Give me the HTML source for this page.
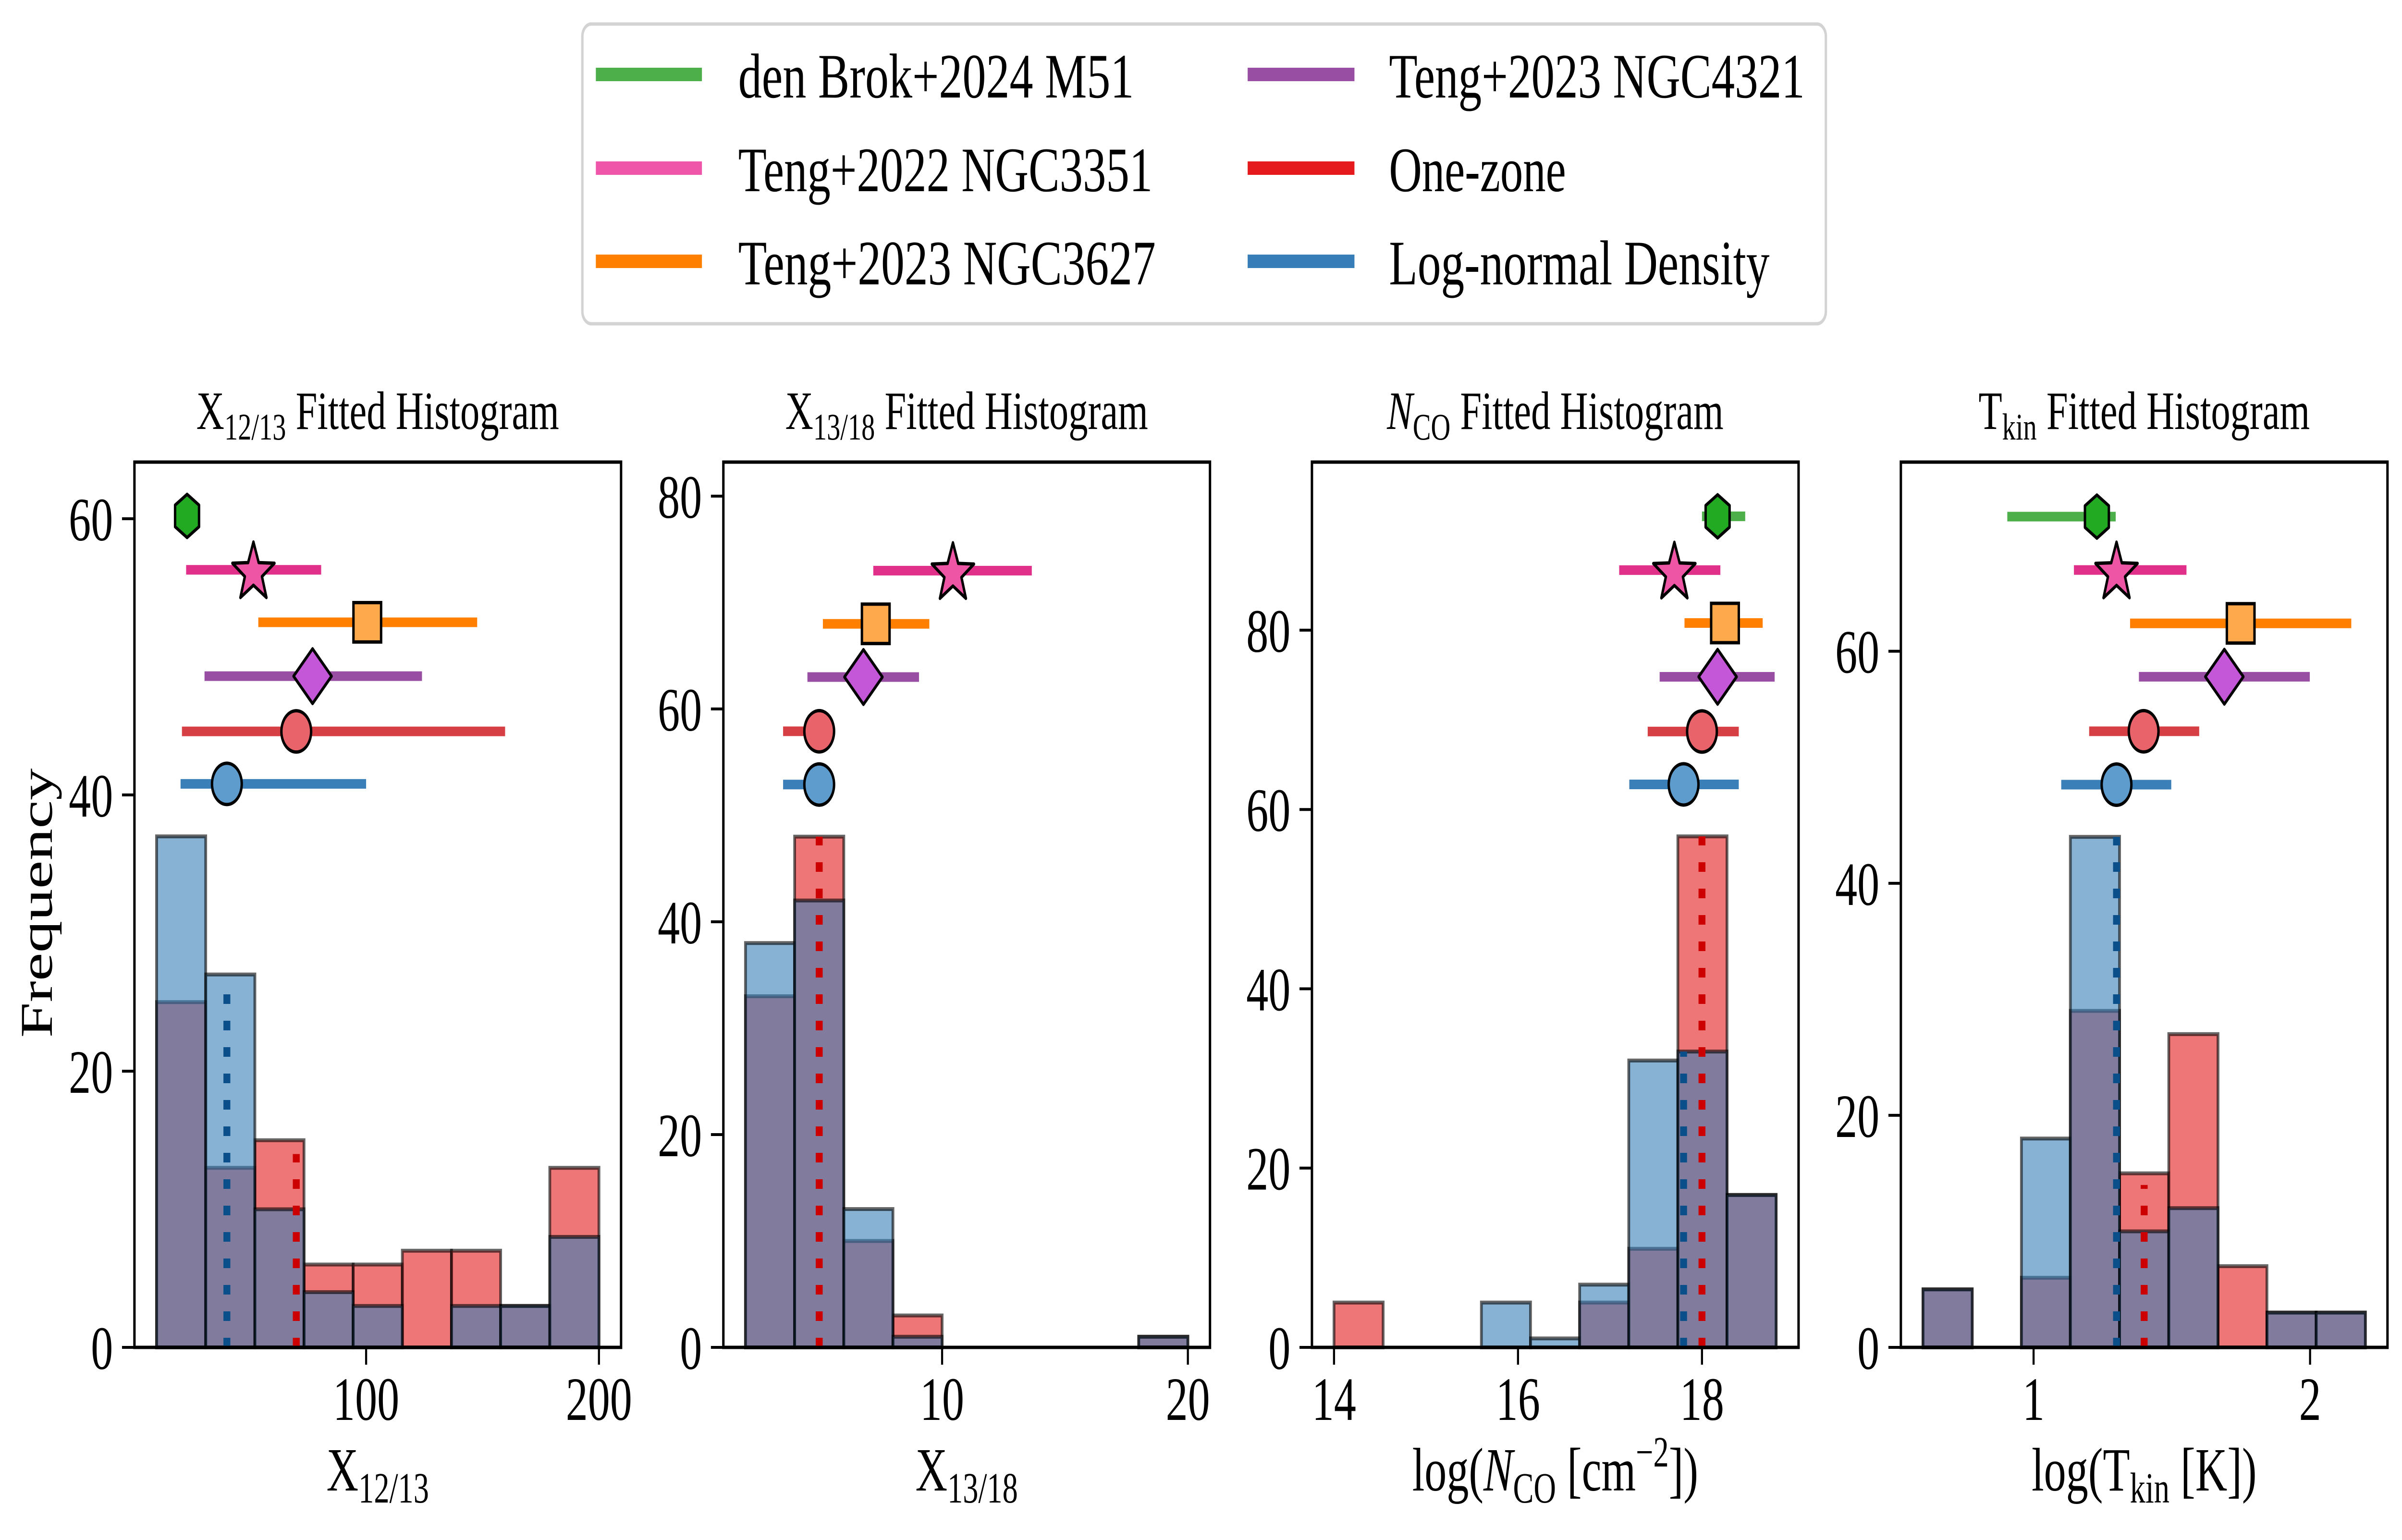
<!DOCTYPE html>
<html><head><meta charset="utf-8"><title>Fitted Histograms</title>
<style>
html,body{margin:0;padding:0;background:#fff;overflow:hidden;width:100%;height:100%;}
svg{display:block;width:100vw;height:100vh;}
text{font-family:"Liberation Serif","DejaVu Serif",serif;fill:#000;}
</style></head>
<body>
<svg id="fig" xmlns="http://www.w3.org/2000/svg" viewBox="0 0 6950 3206" preserveAspectRatio="none">
  <rect x="0" y="0" width="6950" height="3206" fill="#fff"/>
  <g>
    <rect x="1685" y="50" width="3598" height="624" rx="26" fill="#fff" stroke="#d3d3d3" stroke-width="7"/>
    <g>
      <rect x="1724" y="141" width="307" height="28" fill="#4daf4a"/>
      <text x="2136" y="203" font-size="132" textLength="1145" lengthAdjust="spacingAndGlyphs">den Brok+2024 M51</text>
    </g>
    <g>
      <rect x="1724" y="336" width="307" height="28" fill="#ef55a8"/>
      <text x="2136" y="398" font-size="132" textLength="1199" lengthAdjust="spacingAndGlyphs">Teng+2022 NGC3351</text>
    </g>
    <g>
      <rect x="1724" y="530" width="307" height="28" fill="#ff7f00"/>
      <text x="2136" y="592" font-size="132" textLength="1208" lengthAdjust="spacingAndGlyphs">Teng+2023 NGC3627</text>
    </g>
    <g>
      <rect x="3610" y="141" width="309" height="28" fill="#984ea3"/>
      <text x="4019" y="203" font-size="132" textLength="1203" lengthAdjust="spacingAndGlyphs">Teng+2023 NGC4321</text>
    </g>
    <g>
      <rect x="3610" y="336" width="309" height="28" fill="#e41a1c"/>
      <text x="4019" y="398" font-size="132" textLength="512" lengthAdjust="spacingAndGlyphs">One-zone</text>
    </g>
    <g>
      <rect x="3610" y="530" width="309" height="28" fill="#377eb8"/>
      <text x="4019" y="592" font-size="132" textLength="1101" lengthAdjust="spacingAndGlyphs">Log-normal Density</text>
    </g>
  </g>
  <text x="150" y="1880" font-size="132" text-anchor="middle" transform="rotate(-90 150 1880)" textLength="561" lengthAdjust="spacingAndGlyphs">Frequency</text>
  <g id="panels"></g>
</svg>
<script>
// ---------- Panel 1: X12/13 ----------
const p1Edges = [10, 31.11, 52.22, 73.33, 94.44, 115.56, 136.67, 157.78, 178.89, 200];
const p1Red = [25, 13, 15, 6, 6, 7, 7, 3, 13];
const p1Blue = [37, 27, 10, 4, 3, 0, 3, 3, 8];
const p1VlineX = [40.2, 70];
const p1VlineH = [26, 14];
const p1MarkX = [23.1, 51.6, 100.5, 77, 70, 40.2];
const p1MarkY = [60.2, 56.3, 52.5, 48.6, 44.6, 40.8];
const p1ErrLo = [23.1, 22.7, 53.7, 30.6, 20.9, 20.3];
const p1ErrHi = [23.1, 80.7, 147.7, 124, 159.7, 100];
const p1XTicks = [100, 200];
const p1YTicks = [0, 20, 40, 60];
// ---------- Panel 2: X13/18 ----------
const p2Edges = [2, 4, 6, 8, 10, 12, 14, 16, 18, 20];
const p2Red = [33, 48, 10, 3, 0, 0, 0, 0, 1];
const p2Blue = [38, 42, 13, 1, 0, 0, 0, 0, 1];
const p2VlineX = [5.0, 5.0];
const p2VlineH = [42, 48];
const p2MarkX = [null, 10.44, 7.3, 6.8, 5.0, 5.0];
const p2MarkY = [null, 73.0, 68.0, 63.0, 57.9, 52.9];
const p2ErrLo = [null, 7.2, 5.15, 4.52, 3.53, 3.53];
const p2ErrHi = [null, 13.65, 9.48, 9.06, 5.0, 5.0];
const p2XTicks = [10, 20];
const p2YTicks = [0, 20, 40, 60, 80];
// ---------- Panel 3: N_CO ----------
const p3Edges = [14.0, 14.534, 15.068, 15.602, 16.136, 16.67, 17.204, 17.738, 18.272, 18.806];
const p3Red = [5, 0, 0, 0, 0, 5, 11, 57, 17];
const p3Blue = [0, 0, 0, 5, 1, 7, 32, 33, 17];
const p3VlineX = [17.80, 18.0];
const p3VlineH = [33, 57];
const p3MarkX = [18.17, 17.70, 18.25, 18.17, 18.0, 17.80];
const p3MarkY = [92.7, 86.7, 80.8, 74.8, 68.7, 62.8];
const p3ErrLo = [18.0, 17.10, 17.81, 17.54, 17.41, 17.21];
const p3ErrHi = [18.47, 18.20, 18.66, 18.79, 18.40, 18.40];
const p3XTicks = [14, 16, 18];
const p3YTicks = [0, 20, 40, 60, 80];
// ---------- Panel 4: T_kin ----------
const p4Edges = [0.6, 0.778, 0.956, 1.133, 1.311, 1.489, 1.667, 1.844, 2.022, 2.2];
const p4Red = [5, 0, 6, 29, 15, 27, 7, 3, 3];
const p4Blue = [5, 0, 18, 44, 10, 12, 0, 3, 3];
const p4VlineX = [1.30, 1.40];
const p4VlineH = [44, 14];
const p4MarkX = [1.229, 1.30, 1.749, 1.690, 1.398, 1.30];
const p4MarkY = [71.6, 67.0, 62.4, 57.8, 53.1, 48.5];
const p4ErrLo = [0.905, 1.146, 1.349, 1.381, 1.201, 1.10];
const p4ErrHi = [1.297, 1.553, 2.149, 1.999, 1.599, 1.498];
const p4XTicks = [1, 2];
const p4YTicks = [0, 20, 40, 60];

const NS = 'http://www.w3.org/2000/svg';
const TOP = 962, BOT = 2805;
const panelsG = document.getElementById('panels');
function mk(tag, attrs, parent) {
  const e = document.createElementNS(NS, tag);
  for (const k in attrs) e.setAttribute(k, attrs[k]);
  parent.appendChild(e);
  return e;
}
const seriesNames = ['den-brok-m51', 'teng-ngc3351', 'teng-ngc3627', 'teng-ngc4321', 'one-zone', 'log-normal'];
const errColors = ['#4daf4a', '#e0308a', '#ff7f00', '#984ea3', '#d64045', '#3b7fb8'];
const markFills = ['#22aa22', '#ee55a5', '#ffa94d', '#c457d7', '#e8636a', '#5d9ccd'];

function markerShape(kind, cx, cy, g, fill) {
  const sw = 7;
  let e;
  if (kind === 'hex') {
    const rx = 40, ry = 45, pts = [];
    for (let i = 0; i < 6; i++) { const a = Math.PI / 2 + i * Math.PI / 3; pts.push((cx + rx * Math.cos(a)).toFixed(1) + ',' + (cy - ry * Math.sin(a)).toFixed(1)); }
    e = mk('polygon', {points: pts.join(' '), fill: fill, stroke: '#000', 'stroke-width': sw, 'stroke-linejoin': 'round'}, g);
  } else if (kind === 'star') {
    const pts = [];
    for (let i = 0; i < 10; i++) { const r = i % 2 === 0 ? 64 : 26; const a = Math.PI / 2 + i * Math.PI / 5; pts.push((cx + r * Math.cos(a)).toFixed(1) + ',' + (cy + 6 - r * Math.sin(a)).toFixed(1)); }
    e = mk('polygon', {points: pts.join(' '), fill: fill, stroke: '#000', 'stroke-width': sw, 'stroke-linejoin': 'round'}, g);
  } else if (kind === 'square') {
    e = mk('rect', {x: cx - 40, y: cy - 41, width: 80, height: 82, fill: fill, stroke: '#000', 'stroke-width': sw}, g);
  } else if (kind === 'diamond') {
    e = mk('polygon', {points: `${cx},${cy - 57} ${cx + 55},${cy} ${cx},${cy + 57} ${cx - 55},${cy}`, fill: fill, stroke: '#000', 'stroke-width': sw, 'stroke-linejoin': 'round'}, g);
  } else {
    e = mk('ellipse', {cx: cx, cy: cy, rx: 43, ry: 43, fill: fill, stroke: '#000', 'stroke-width': sw}, g);
  }
  
  
}
const markKinds = ['hex', 'star', 'square', 'diamond', 'circle', 'circle'];

function labelWithSub(g, x, y, fs, parts, name) {
  const t = mk('text', {x: x, y: y, 'font-size': fs, 'text-anchor': 'middle'}, g);
  
  
  parts.forEach(p => {
    const ts = mk('tspan', {}, t);
    if (p.sub) { ts.setAttribute('font-size', fs * 0.7); ts.setAttribute('dy', p.dy); }
    else if (p.dy) ts.setAttribute('dy', p.dy);
    if (p.italic) ts.setAttribute('font-style', 'italic');
    ts.textContent = p.t;
  });
  return t;
}

function drawPanel(cfg) {
  const g = mk('g', {}, panelsG);
  
  
  const L = cfg.left, R = cfg.left + 1408;
  const xs = v => L + (v - cfg.xmin) / (cfg.xmax - cfg.xmin) * (R - L);
  const ys = v => BOT - v / cfg.ymax * (BOT - TOP);
  [['red', cfg.red, '#e41a1c'], ['blue', cfg.blue, '#377eb8']].forEach(([nm, vals, col]) => {
    const hg = mk('g', {}, g);
    
    
    vals.forEach((v, i) => {
      if (v <= 0) return;
      const x0 = xs(cfg.edges[i]), x1 = xs(cfg.edges[i + 1]);
      const r = mk('rect', {x: x0, y: ys(v), width: x1 - x0, height: ys(0) - ys(v), fill: col, 'fill-opacity': 0.6, stroke: '#000', 'stroke-opacity': 0.6, 'stroke-width': 8}, hg);
      
      
    });
  });
  const vcols = ['#0b4f8a', '#cc0000'];
  cfg.vx.forEach((vx, i) => {
    const l = mk('line', {x1: xs(vx), x2: xs(vx), y1: ys(0), y2: ys(cfg.vh[i]), stroke: vcols[i], 'stroke-width': 20, 'stroke-dasharray': '20 35'}, g);
    
    
  });
  cfg.mx.forEach((mxv, i) => {
    if (mxv === null) return;
    const eg = mk('g', {}, g);
    
    
    const y = ys(cfg.my[i]);
    const el = mk('line', {x1: xs(cfg.lo[i]), x2: xs(cfg.hi[i]), y1: y, y2: y, stroke: errColors[i], 'stroke-width': 20}, eg);
    
    
    markerShape(markKinds[i], xs(mxv), y, eg, markFills[i]);
  });
  const sp = mk('rect', {x: L, y: TOP, width: R - L, height: BOT - TOP, fill: 'none', stroke: '#000', 'stroke-width': 7}, g);
  
  
  cfg.xt.forEach(t => {
    const x = xs(t);
    const tl = mk('line', {x1: x, x2: x, y1: BOT, y2: BOT + 36, stroke: '#000', 'stroke-width': 6}, g);
    
    
    const tx = mk('text', {x: x, y: 2956, 'font-size': 128, 'text-anchor': 'middle'}, g);
    
    
    tx.textContent = t;
  });
  cfg.yt.forEach(t => {
    const y = ys(t);
    const tl = mk('line', {x1: L - 36, x2: L, y1: y, y2: y, stroke: '#000', 'stroke-width': 6}, g);
    
    
    const tx = mk('text', {x: L - 62, y: y + 45, 'font-size': 128, 'text-anchor': 'end'}, g);
    
    
    tx.textContent = t;
  });
  const cx = (L + R) / 2;
  labelWithSub(g, cx, 893, 112, cfg.title, 'panel-title');
  labelWithSub(g, cx, 3103, 128, cfg.xlabel, 'x-axis-title');
}

drawPanel({name: 'panel-x12-13', left: 389, xmin: 0.5, xmax: 209.5, ymax: 64.1,
  edges: p1Edges, red: p1Red, blue: p1Blue, vx: p1VlineX, vh: p1VlineH,
  mx: p1MarkX, my: p1MarkY, lo: p1ErrLo, hi: p1ErrHi, xt: p1XTicks, yt: p1YTicks,
  title: [{t: 'X'}, {t: '12/13', sub: true, dy: 22}, {t: ' Fitted Histogram', dy: -22}],
  xlabel: [{t: 'X'}, {t: '12/13', sub: true, dy: 25}]});
drawPanel({name: 'panel-x13-18', left: 2093, xmin: 1.1, xmax: 20.9, ymax: 83.2,
  edges: p2Edges, red: p2Red, blue: p2Blue, vx: p2VlineX, vh: p2VlineH,
  mx: p2MarkX, my: p2MarkY, lo: p2ErrLo, hi: p2ErrHi, xt: p2XTicks, yt: p2YTicks,
  title: [{t: 'X'}, {t: '13/18', sub: true, dy: 22}, {t: ' Fitted Histogram', dy: -22}],
  xlabel: [{t: 'X'}, {t: '13/18', sub: true, dy: 25}]});
drawPanel({name: 'panel-nco', left: 3796, xmin: 13.76, xmax: 19.05, ymax: 98.75,
  edges: p3Edges, red: p3Red, blue: p3Blue, vx: p3VlineX, vh: p3VlineH,
  mx: p3MarkX, my: p3MarkY, lo: p3ErrLo, hi: p3ErrHi, xt: p3XTicks, yt: p3YTicks,
  title: [{t: 'N', italic: true}, {t: 'CO', sub: true, dy: 22}, {t: ' Fitted Histogram', dy: -22}],
  xlabel: [{t: 'log('}, {t: 'N', italic: true}, {t: 'CO', sub: true, dy: 25}, {t: ' [cm', dy: -25}, {t: '−2', sub: true, dy: -50}, {t: '])', dy: 50}]});
drawPanel({name: 'panel-tkin', left: 5500, xmin: 0.52, xmax: 2.28, ymax: 76.3,
  edges: p4Edges, red: p4Red, blue: p4Blue, vx: p4VlineX, vh: p4VlineH,
  mx: p4MarkX, my: p4MarkY, lo: p4ErrLo, hi: p4ErrHi, xt: p4XTicks, yt: p4YTicks,
  title: [{t: 'T'}, {t: 'kin', sub: true, dy: 22}, {t: ' Fitted Histogram', dy: -22}],
  xlabel: [{t: 'log(T'}, {t: 'kin', sub: true, dy: 25}, {t: ' [K])', dy: -25}]});
</script>
</body></html>
